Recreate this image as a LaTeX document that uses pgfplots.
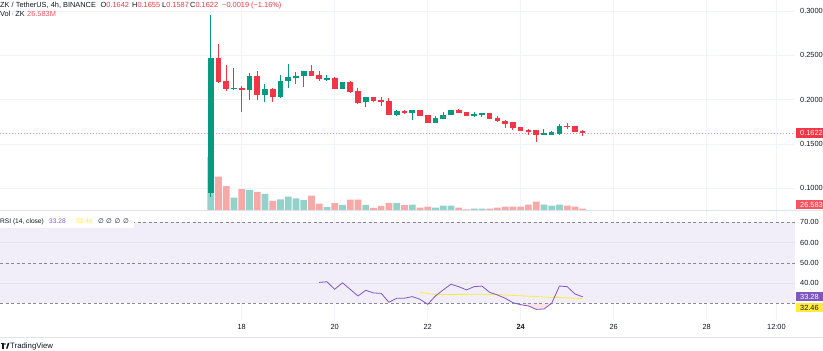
\documentclass[border=0pt]{standalone}
\usepackage{fontspec}
\setmainfont{Liberation Sans}
\newfontfamily\djv{DejaVu Sans}
\usepackage{pgfplots}
\usepackage{pgfplotstable}
\pgfplotsset{compat=1.18}

\definecolor{upc}{HTML}{089981}
\definecolor{dnc}{HTML}{F23645}
\definecolor{vup}{HTML}{92D2CA}
\definecolor{vdn}{HTML}{F7A9A8}
\definecolor{gridc}{HTML}{F0F3FA}
\definecolor{sepc}{HTML}{E0E3EB}
\definecolor{txt}{HTML}{131722}
\definecolor{rsic}{HTML}{7E57C2}
\definecolor{band}{HTML}{F2EEF9}
\definecolor{bandgrid}{HTML}{E6E2F0}
\definecolor{mac}{HTML}{FFEB3B}
\definecolor{dashc}{HTML}{878A95}
\definecolor{volred}{HTML}{F7525F}
\definecolor{pinkfill}{HTML}{FBE3E6}

\newcommand{\fs}{\fontsize{7.4}{9}\selectfont}
\newcommand{\fss}{\fontsize{6.6}{8}\selectfont}

% up candles: index, open, high, low, close, volume (M)
\pgfplotstableread{
i O H L C V
0 0.0950 0.2955 0.0900 0.2466 718
3 0.2124 0.2354 0.2109 0.2132 173
5 0.2109 0.2304 0.1996 0.2267 275
7 0.2052 0.2173 0.1970 0.2117 222
9 0.2033 0.2278 0.2020 0.2210 150
10 0.2210 0.2402 0.2135 0.2252 186
11 0.2250 0.2315 0.2173 0.2266 163
12 0.2270 0.2325 0.2146 0.2323 142
15 0.2233 0.2278 0.2210 0.2241 49
17 0.2128 0.2200 0.2115 0.2191 76
20 0.1974 0.2026 0.1920 0.2026 76
24 0.1827 0.1880 0.1810 0.1872 102
26 0.1857 0.1880 0.1770 0.1875 80
29 0.1740 0.1816 0.1735 0.1790 40
30 0.1790 0.1857 0.1778 0.1827 66
31 0.1827 0.1885 0.1825 0.1883 66
34 0.1819 0.1864 0.1808 0.1838 27
35 0.1840 0.1850 0.1801 0.1847 27
43 0.1605 0.1669 0.1600 0.1616 80
44 0.1605 0.1650 0.1600 0.1627 66
45 0.1620 0.1726 0.1605 0.1703 80
}\uptab

% down candles
\pgfplotstableread{
i O H L C V
1 0.2466 0.2624 0.2185 0.2203 452
2 0.2203 0.2391 0.2101 0.2128 328
4 0.2132 0.2150 0.1864 0.2118 288
6 0.2267 0.2327 0.1996 0.2052 249
8 0.2117 0.2130 0.1977 0.2033 129
13 0.2323 0.2391 0.2262 0.2270 199
14 0.2278 0.2323 0.2210 0.2233 93
16 0.2240 0.2250 0.2115 0.2128 102
18 0.2191 0.2210 0.2080 0.2090 146
19 0.2090 0.2135 0.1947 0.1970 146
21 0.2026 0.2035 0.1970 0.1988 36
22 0.1993 0.2033 0.1928 0.1985 62
23 0.1985 0.2020 0.1827 0.1827 102
25 0.1872 0.1883 0.1840 0.1853 73
27 0.1875 0.1880 0.1815 0.1819 40
28 0.1827 0.1830 0.1745 0.1745 53
32 0.1883 0.1890 0.1850 0.1853 40
33 0.1857 0.1860 0.1815 0.1819 17
36 0.1846 0.1850 0.1778 0.1782 27
37 0.1790 0.1816 0.1751 0.1763 40
38 0.1759 0.1770 0.1684 0.1733 53
39 0.1740 0.1745 0.1658 0.1684 53
40 0.1684 0.1695 0.1650 0.1650 53
41 0.1658 0.1669 0.1601 0.1638 80
42 0.1650 0.1658 0.1526 0.1601 120
46 0.1703 0.1735 0.1666 0.1695 66
47 0.1695 0.1700 0.1638 0.1638 53
48 0.1642 0.1655 0.1587 0.1622 26.583
}\dntab

\pgfplotstableread{
i r
14 40.4
15 40.7
16 37.0
17 40.2
18 37.0
19 33.7
20 36.5
21 35.2
22 35.0
23 30.6
24 32.6
25 32.6
26 33.4
27 32.1
28 29.6
29 33.7
30 36.7
31 39.5
32 38.3
33 36.7
34 38.3
35 38.6
36 35.5
37 34.2
38 32.6
39 30.4
40 29.4
41 28.8
42 27.1
43 27.3
44 30.1
45 38.6
46 38.3
47 34.7
48 33.28
}\rsitab

\pgfplotstableread{
i m
27 35.6
28 34.9
29 34.5
30 34.4
31 34.4
32 34.5
33 34.5
34 34.6
35 34.6
36 34.5
37 34.4
38 34.2
39 34.0
40 33.8
41 33.6
42 33.4
43 33.2
44 33.0
45 32.9
46 32.8
47 32.6
48 32.46
}\matab

\pgfplotsset{
  tvbase/.style={scale only axis, width=795pt, xmin=12.802, xmax=29.899, clip=true},
  /pgfplots/table/tvx/.style={x expr=17.33333+\thisrow{i}/6},
}

\begin{document}
\begin{tikzpicture}
\useasboundingbox (0,0) rectangle (823pt,351pt);
% ---------- price pane: grid and scale ----------
\begin{axis}[tvbase, at={(0pt,140.3pt)}, anchor=south west, height=210.7pt,
  ymin=0.0747, ymax=0.3124,
  axis line style={draw=none}, major tick length=0pt,
  xtick={18,20,22,24,26,28,29.5}, xticklabels={},
  ytick={0.1,0.15,0.2,0.25,0.3}, scaled y ticks=false,
  yticklabel pos=right,
  yticklabel style={anchor=west, inner sep=0pt, xshift=5pt, font=\fs, text=txt,
    /pgf/number format/fixed, /pgf/number format/fixed zerofill,
    /pgf/number format/precision=4, /pgf/number format/assume math mode=true},
  xmajorgrids, ymajorgrids, grid style={gridc, line width=0.6pt},
]
\addplot[draw=none, forget plot] coordinates {(20,0.2)};
\end{axis}
% ---------- volume ----------
\begin{axis}[tvbase, at={(0pt,140.3pt)}, anchor=south west, height=210.7pt,
  ymin=0, ymax=2800, hide axis]
\addplot[ybar, bar width=6.6pt, bar shift=0pt, fill=vup, draw=none] table[tvx, y=V] \uptab;
\addplot[ybar, bar width=6.6pt, bar shift=0pt, fill=vdn, draw=none] table[tvx, y=V] \dntab;
\end{axis}
% ---------- candles ----------
\begin{axis}[tvbase, at={(0pt,140.3pt)}, anchor=south west, height=210.7pt,
  ymin=0.0747, ymax=0.3124, hide axis]
\addplot[draw=dnc!55, line width=0.6pt, dash pattern=on 0.8pt off 2.2pt] coordinates {(12.802,0.1622) (29.899,0.1622)};
\addplot[draw=none, mark=none, error bars/.cd, y dir=both, y explicit, error mark=none,
  error bar style={draw=upc, line width=1pt}]
  table[tvx, y expr=(\thisrow{H}+\thisrow{L})/2, y error expr=(\thisrow{H}-\thisrow{L})/2] \uptab;
\addplot[draw=none, mark=none, error bars/.cd, y dir=both, y explicit, error mark=none,
  error bar style={draw=dnc, line width=1pt}]
  table[tvx, y expr=(\thisrow{H}+\thisrow{L})/2, y error expr=(\thisrow{H}-\thisrow{L})/2] \dntab;
\addplot[draw=none, mark=none, error bars/.cd, y dir=both, y explicit, error mark=none,
  error bar style={draw=upc, line width=5.6pt}]
  table[tvx, y expr=(\thisrow{O}+\thisrow{C})/2, y error expr=abs(\thisrow{C}-\thisrow{O})/2+0.0004] \uptab;
\addplot[draw=none, mark=none, error bars/.cd, y dir=both, y explicit, error mark=none,
  error bar style={draw=dnc, line width=5.6pt}]
  table[tvx, y expr=(\thisrow{O}+\thisrow{C})/2, y error expr=abs(\thisrow{C}-\thisrow{O})/2+0.0004] \dntab;
\end{axis}
% ---------- RSI pane ----------
\begin{axis}[tvbase, at={(0pt,31pt)}, anchor=south west, height=109pt,
  ymin=21.87, ymax=75.57,
  axis line style={draw=none}, major tick length=0pt,
  xtick={18,20,22,24,26,28,29.5},
  xticklabels={18,20,22,\textbf{24},26,28,12:00},
  xticklabel style={font=\fs, text=txt, inner sep=0pt, anchor=north, yshift=-4.5pt},
  ytick={40,50,60,70},
  yticklabel pos=right,
  yticklabel style={anchor=west, inner sep=0pt, xshift=5pt, font=\fs, text=txt,
    /pgf/number format/fixed, /pgf/number format/fixed zerofill,
    /pgf/number format/precision=2, /pgf/number format/assume math mode=true},
  xmajorgrids, grid style={gridc, line width=0.6pt},
]
\addplot[draw=none, fill=band] coordinates {(12.802,30) (29.899,30) (29.899,70) (12.802,70)} --cycle;
\addplot[bandgrid, line width=0.6pt] coordinates {(12.802,60) (29.899,60)};
\addplot[bandgrid, line width=0.6pt] coordinates {(12.802,40) (29.899,40)};
\addplot[draw=none, fill=pinkfill] table[tvx, y expr={min(\thisrow{r},30)}] \rsitab --cycle;
\addplot[dashc, line width=0.6pt, dash pattern=on 3pt off 2.5pt] coordinates {(12.802,70) (29.899,70)};
\addplot[dashc, line width=0.6pt, dash pattern=on 3pt off 2.5pt] coordinates {(12.802,50) (29.899,50)};
\addplot[dashc, line width=0.6pt, dash pattern=on 3pt off 2.5pt] coordinates {(12.802,30) (29.899,30)};
\addplot[mac, line width=0.8pt] table[tvx, y=m] \matab;
\addplot[rsic, line width=0.8pt] table[tvx, y=r] \rsitab;
\end{axis}
% ---------- separators ----------
\draw[sepc, line width=0.8pt] (0pt,140.3pt) -- (823pt,140.3pt);
\draw[sepc, line width=0.8pt] (0pt,14pt) -- (823pt,14pt);
% legend background in the RSI pane
\fill[white] (0pt,122.5pt) rectangle (134pt,136.5pt);
% ---------- legends ----------
\begin{scope}[every node/.style={anchor=base west, inner sep=0pt, font=\fs}]
\node[text=txt] at (0pt,343.8pt) {ZK / TetherUS, 4h, BINANCE};
\node at (100.5pt,343.8pt) {\color{txt}O\color{dnc}0.1642};
\node at (132pt,343.8pt) {\color{txt}H\color{dnc}0.1655};
\node at (162pt,343.8pt) {\color{txt}L\color{dnc}0.1587};
\node at (190pt,343.8pt) {\color{txt}C\color{dnc}0.1622};
\node[text=dnc] at (222pt,343.8pt) {−0.0019 (−1.16\%)};
\node[text=txt] at (0pt,334.3pt) {Vol\,·\,ZK};
\node[text=volred] at (27pt,334.3pt) {26.583M};
\node[text=txt, font=\fss] at (0pt,127.6pt) {RSI (14, close)};
\node[text=rsic, font=\fss] at (49pt,127.6pt) {33.28};
\node[text=mac, font=\fss] at (76pt,127.6pt) {32.46};
\node[text=txt, font=\fss] at (97.8pt,127.6pt) {\djv ∅};
\node[text=txt, font=\fss] at (106pt,127.6pt) {\djv ∅};
\node[text=txt, font=\fss] at (114.5pt,127.6pt) {\djv ∅};
\node[text=txt, font=\fss] at (122.8pt,127.6pt) {\djv ∅};
\node[text=txt, font=\fontsize{7.8}{9}\selectfont] at (10pt,2.2pt) {TradingView};
\end{scope}
% TradingView logo
\fill[txt] (0.5pt,6.6pt) rectangle (4.2pt,8pt);
\fill[txt] (2.3pt,2.4pt) rectangle (3.7pt,8pt);
\fill[txt] (5pt,7pt) circle (0.8pt);
\fill[txt] (6pt,2.4pt) -- (7.6pt,2.4pt) -- (9.4pt,8pt) -- (7.8pt,8pt) -- cycle;
% ---------- scale labels ----------
\begin{scope}[every node/.style={anchor=west, inner xsep=4pt, inner ysep=0pt, minimum height=9.3pt, font=\fs}]
\node[fill=dnc, text=white] at (796pt,218pt) {0.1622};
\node[fill=volred, text=white] at (796pt,146.3pt) {26.583};
\node[fill=rsic, text=white] at (796pt,54.3pt) {33.28};
\node[fill=mac, text=txt] at (796pt,43.2pt) {32.46};
\end{scope}
\end{tikzpicture}
\end{document}
